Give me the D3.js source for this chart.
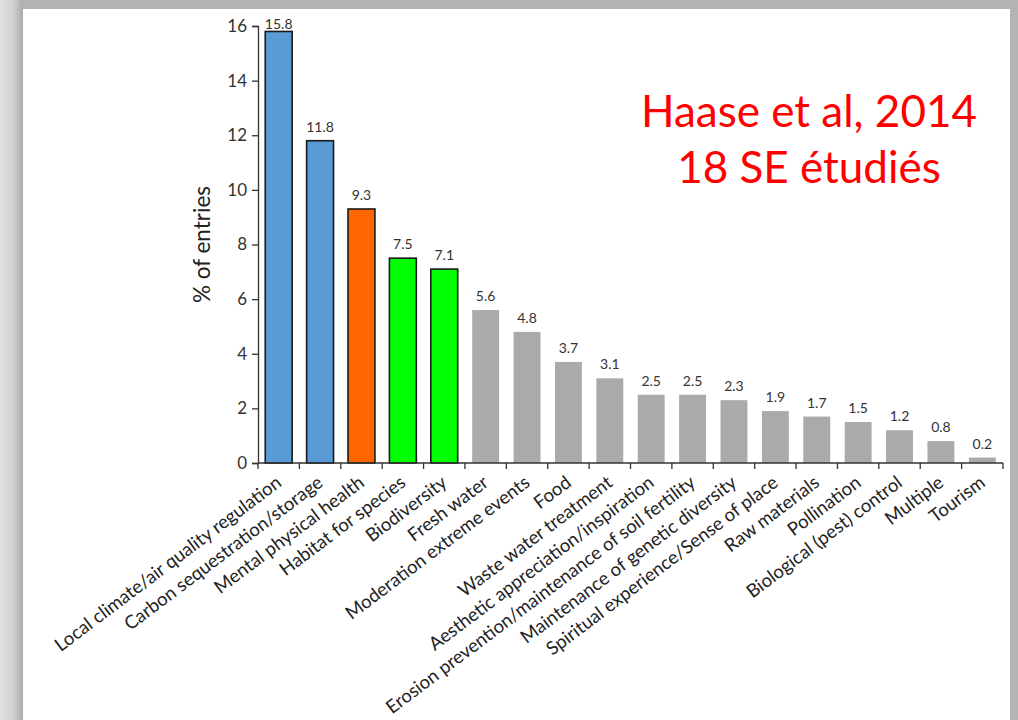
<!DOCTYPE html>
<html>
<head>
<meta charset="utf-8">
<script src="https://cdn.jsdelivr.net/npm/d3@7"></script>
<style>
  html, body { margin: 0; padding: 0; background: #fff; }
  svg { display: block; }
</style>
</head>
<body>
<svg id="chart" width="1018" height="720"></svg>
<script>
(function () {
    'use strict';

    // categories and % of entries (Haase et al, 2014)
    var categories = [
        "Local climate/air quality regulation",
        "Carbon sequestration/storage",
        "Mental physical health",
        "Habitat for species",
        "Biodiversity",
        "Fresh water",
        "Moderation extreme events",
        "Food",
        "Waste water treatment",
        "Aesthetic appreciation/inspiration",
        "Erosion prevention/maintenance of soil fertility",
        "Maintenance of genetic diversity",
        "Spiritual experience/Sense of place",
        "Raw materials",
        "Pollination",
        "Biological (pest) control",
        "Multiple",
        "Tourism"
    ];
    var values = [15.8, 11.8, 9.3, 7.5, 7.1, 5.6, 4.8, 3.7, 3.1, 2.5, 2.5, 2.3, 1.9, 1.7, 1.5, 1.2, 0.8, 0.2];
    var groups = ["climate", "climate", "health", "biodiv", "biodiv",
        "other", "other", "other", "other", "other", "other", "other", "other",
        "other", "other", "other", "other", "other"];
    var yTicks = [0, 2, 4, 6, 8, 10, 12, 14, 16];
    var titleLines = ["Haase et al, 2014", "18 SE étudiés"];

    var data = categories.map(function (c, i) {
        return {name: c, value: values[i], group: groups[i]};
    });

    var svg = d3.select("#chart"),
        W = +svg.attr("width"),
        H = +svg.attr("height"),
        margin = {top: 26, right: 15, bottom: 257, left: 258},
        width = 1003 - margin.left,
        height = 463 - margin.top;

    var font = "Lato, 'Open Sans', sans-serif";

    // slide frame
    var defs = svg.append("defs");
    var lg = defs.append("linearGradient").attr("id", "leftShade");
    lg.append("stop").attr("offset", "0%").attr("stop-color", "#e2e2e2");
    lg.append("stop").attr("offset", "60%").attr("stop-color", "#d0d0d0");
    lg.append("stop").attr("offset", "100%").attr("stop-color", "#a9a9a9");

    svg.append("rect").attr("width", W).attr("height", H).attr("fill", "#b4b4b4");
    svg.append("rect").attr("width", 23).attr("height", H).attr("fill", "url(#leftShade)");
    svg.append("rect").attr("x", 23).attr("y", 9).attr("width", 987).attr("height", H - 9).attr("fill", "#ffffff");

    var g = svg.append("g").attr("transform", "translate(" + margin.left + "," + margin.top + ")");

    var x = d3.scaleBand()
        .domain(categories)
        .range([0, width])
        .paddingInner(0.35)
        .paddingOuter(0.175);

    var y = d3.scaleLinear()
        .domain([0, 16])
        .range([height, 0]);

    var color = d3.scaleOrdinal()
        .domain(["climate", "health", "biodiv", "other"])
        .range(["#5b9bd5", "#ff6600", "#00ff00", "#aaaaaa"]);

    // bars
    g.selectAll(".bar")
        .data(data)
        .enter().append("rect")
        .attr("class", "bar")
        .attr("x", function (d) { return x(d.name); })
        .attr("y", function (d) { return y(d.value); })
        .attr("width", x.bandwidth())
        .attr("height", function (d) { return height - y(d.value); })
        .attr("fill", function (d) { return color(d.group); })
        .attr("stroke", function (d) { return d.group === "other" ? "none" : "#1a1a1a"; })
        .attr("stroke-width", 1.6);

    // value labels (kept inside the plot top, like the original)
    g.selectAll(".val")
        .data(data)
        .enter().append("text")
        .attr("class", "val")
        .attr("x", function (d) { return x(d.name) + x.bandwidth() / 2; })
        .attr("y", function (d) { return Math.max(y(d.value) - 9, 3); })
        .attr("text-anchor", "middle")
        .attr("font-family", font)
        .attr("font-size", 14)
        .attr("fill", "#333")
        .text(function (d) { return d.value.toFixed(1); });

    // y axis
    var yAxis = g.append("g")
        .call(d3.axisLeft(y).tickValues(yTicks).tickSize(6).tickPadding(5));
    yAxis.selectAll("path, line").attr("stroke", "#333").attr("stroke-width", 1.3);
    yAxis.selectAll("text").attr("font-family", font).attr("font-size", 17).attr("fill", "#333");

    // x axis, ticks between categories
    var xAxis = g.append("g").attr("transform", "translate(0," + height + ")");
    xAxis.append("line")
        .attr("x1", 0).attr("x2", width)
        .attr("stroke", "#333").attr("stroke-width", 1.3);
    var step = x.step();
    xAxis.selectAll(".tick")
        .data(d3.range(categories.length + 1))
        .enter().append("line")
        .attr("x1", function (i) { return x.range()[0] + i * step; })
        .attr("x2", function (i) { return x.range()[0] + i * step; })
        .attr("y1", 0).attr("y2", 6)
        .attr("stroke", "#333").attr("stroke-width", 1.3);

    xAxis.selectAll(".cat")
        .data(categories)
        .enter().append("text")
        .attr("class", "cat")
        .attr("text-anchor", "end")
        .attr("font-family", font)
        .attr("font-size", 18.5)
        .attr("fill", "#222")
        .attr("transform", function (d) {
            return "translate(" + (x(d) + x.bandwidth() / 2 + 4) + ",22) rotate(-37)";
        })
        .text(function (d) { return d; });

    // y axis title
    g.append("text")
        .attr("transform", "translate(-48," + (height / 2) + ") rotate(-90)")
        .attr("text-anchor", "middle")
        .attr("font-family", font)
        .attr("font-size", 22.5)
        .attr("fill", "#222")
        .text("% of entries");

    // red annotation
    svg.append("g").selectAll("text")
        .data(titleLines)
        .enter().append("text")
        .attr("x", 809)
        .attr("y", function (d, i) { return 127 + i * 56; })
        .attr("text-anchor", "middle")
        .attr("font-family", font)
        .attr("font-size", 44)
        .attr("fill", "#ff0000")
        .text(function (d) { return d; });
})();
</script>
</body>
</html>
